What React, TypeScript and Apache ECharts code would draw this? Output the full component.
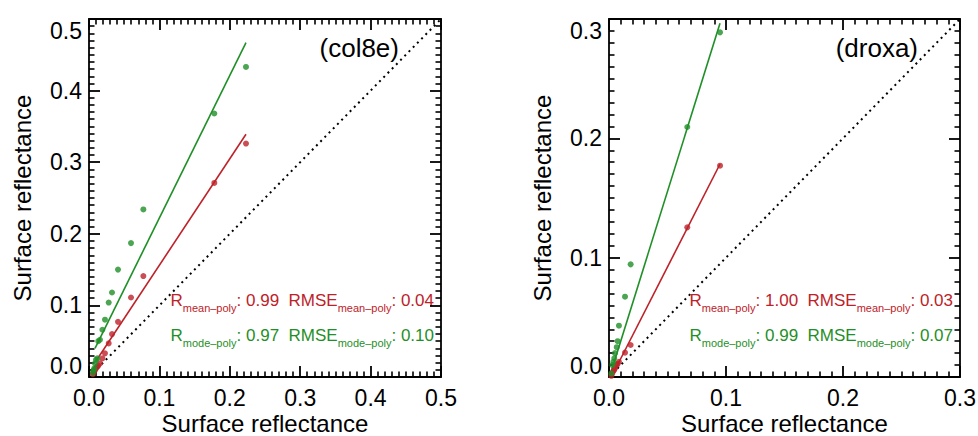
import React, { useEffect, useRef } from "react";
import * as echarts from "echarts";

// ---- Data ----
// Left panel (col8e)
const LEFT_X = [0.0055, 0.0065, 0.0075, 0.0085, 0.0099, 0.0118, 0.0132, 0.0156, 0.019, 0.0227, 0.028, 0.0327, 0.0412, 0.0597, 0.0772, 0.178, 0.223];
const LEFT_MODE = [0.006, 0.0098, 0.012, 0.019, 0.024, 0.026, 0.050, 0.052, 0.066, 0.080, 0.104, 0.118, 0.150, 0.187, 0.234, 0.368, 0.433];
const LEFT_MEAN = [0.004, 0.006, 0.008, 0.0098, 0.012, 0.0144, 0.016, 0.019, 0.026, 0.033, 0.047, 0.060, 0.077, 0.111, 0.141, 0.271, 0.326];
const LEFT_MODE_FIT = [[0.0085, 0.040], [0.223, 0.467]];
const LEFT_MEAN_FIT = [[0.0109, 0.0237], [0.223, 0.339]];

// Right panel (droxa)
const RIGHT_X = [0.002, 0.0028, 0.0037, 0.0045, 0.0051, 0.0066, 0.0074, 0.0085, 0.0137, 0.0185, 0.0669, 0.0949];
const RIGHT_MODE = [0.003, 0.010, 0.0128, 0.0157, 0.020, 0.025, 0.030, 0.043, 0.0673, 0.0944, 0.2095, 0.2888];
const RIGHT_MEAN = [0.001, 0.003, 0.005, 0.006, 0.0073, 0.010, 0.011, 0.0128, 0.0204, 0.0268, 0.1254, 0.1771];
const RIGHT_MODE_FIT = [[0.0014, 0.003], [0.0949, 0.2964]];
const RIGHT_MEAN_FIT = [[0.0043, 0.0044], [0.0949, 0.1785]];

const PANEL_MAX = [0.5, 0.3];
const MAJOR_STEP = 0.1;
const MINOR_PER_MAJOR = 10;
const PANEL_NAMES = ["(col8e)", "(droxa)"];
const STAT_MEAN = [["0.99", "0.04"], ["1.00", "0.03"]];
const STAT_MODE = [["0.97", "0.10"], ["0.99", "0.07"]];
const AXIS_TITLE = "Surface reflectance";

const RED = "#bd2229";
const GREEN = "#1f8f27";
const FONT = "Liberation Sans, Arial, Helvetica, sans-serif";

const GRIDS = [
  { left: 89, top: 19, width: 352, height: 358 },
  { left: 609, top: 19, width: 351, height: 358 },
];

function pairs(xs: number[], ys: number[]) {
  return xs.map((x, i) => [x, ys[i]]);
}

export default function App() {
  const ref = useRef<HTMLDivElement>(null);

  useEffect(() => {
    if (!ref.current) return;
    const chart = echarts.init(ref.current, null, { renderer: "svg" });

    const xAxes: any[] = [];
    const yAxes: any[] = [];
    const series: any[] = [];
    const graphics: any[] = [];

    const axisBase = (gi: number, max: number) => ({
      type: "value",
      gridIndex: gi,
      min: 0,
      max,
      interval: MAJOR_STEP,
      splitLine: { show: false },
      axisLine: { show: true, onZero: false, lineStyle: { color: "#000", width: 1.8 } },
      axisTick: { show: true, inside: true, length: 11, lineStyle: { color: "#000", width: 1.8 } },
      minorTick: { show: true, splitNumber: MINOR_PER_MAJOR, length: 5.5, lineStyle: { color: "#000", width: 1.6 } },
    });

    const labelStyle = {
      color: "#000",
      fontSize: 23,
      fontFamily: FONT,
      formatter: (v: number) => v.toFixed(1),
    };

    const nameStyle = { color: "#000", fontSize: 24, fontFamily: FONT };

    [0, 1].forEach((gi) => {
      const max = PANEL_MAX[gi];
      xAxes.push({
        ...axisBase(gi, max),
        position: "bottom",
        axisLabel: { ...labelStyle, margin: 9 },
        name: AXIS_TITLE,
        nameLocation: "middle",
        nameGap: 34,
        nameMoveOverlap: false,
        nameTextStyle: nameStyle,
      });
      xAxes.push({
        ...axisBase(gi, max),
        position: "top",
        axisLabel: { show: false },
      });
      yAxes.push({
        ...axisBase(gi, max),
        position: "left",
        axisLabel: {
          ...labelStyle,
          margin: 7,
          verticalAlignMinLabel: "bottom",
          verticalAlignMaxLabel: "top",
        },
        name: AXIS_TITLE,
        nameLocation: "middle",
        nameGap: 55,
        nameMoveOverlap: false,
        nameTextStyle: nameStyle,
      });
      yAxes.push({
        ...axisBase(gi, max),
        position: "right",
        axisLabel: { show: false },
      });
    });

    const panels = [
      { x: LEFT_X, mode: LEFT_MODE, mean: LEFT_MEAN, modeFit: LEFT_MODE_FIT, meanFit: LEFT_MEAN_FIT },
      { x: RIGHT_X, mode: RIGHT_MODE, mean: RIGHT_MEAN, modeFit: RIGHT_MODE_FIT, meanFit: RIGHT_MEAN_FIT },
    ];

    panels.forEach((p, gi) => {
      const xi = gi * 2;
      const yi = gi * 2;
      const max = PANEL_MAX[gi];

      series.push({
        type: "line",
        xAxisIndex: xi,
        yAxisIndex: yi,
        data: [[0, 0], [max, max]],
        showSymbol: false,
        symbol: "none",
        lineStyle: { color: "#000", width: 2, type: [2, 4] },
        silent: true,
        z: 1,
      });
      series.push({
        type: "line",
        xAxisIndex: xi,
        yAxisIndex: yi,
        data: p.meanFit,
        symbol: "none",
        lineStyle: { color: RED, width: 1.6 },
        z: 2,
      });
      series.push({
        type: "line",
        xAxisIndex: xi,
        yAxisIndex: yi,
        data: p.modeFit,
        symbol: "none",
        lineStyle: { color: GREEN, width: 1.6 },
        z: 2,
      });
      series.push({
        type: "scatter",
        xAxisIndex: xi,
        yAxisIndex: yi,
        data: pairs(p.x, p.mean),
        symbolSize: 6,
        itemStyle: { color: RED },
        z: 3,
      });
      series.push({
        type: "scatter",
        xAxisIndex: xi,
        yAxisIndex: yi,
        data: pairs(p.x, p.mode),
        symbolSize: 6,
        itemStyle: { color: GREEN },
        z: 3,
      });

      const g = GRIDS[gi];
      const right = g.left + g.width;
      graphics.push({
        type: "text",
        x: right - 42,
        y: 48,
        style: {
          text: PANEL_NAMES[gi],
          align: "right",
          verticalAlign: "middle",
          fontSize: 26,
          fontFamily: FONT,
          fill: "#000",
        },
      });

      const richFor = (color: string) => ({
        n: { fontSize: 17, fontFamily: FONT, color, lineHeight: 26, verticalAlign: "middle" },
        s: { fontSize: 11, fontFamily: FONT, color, lineHeight: 12, verticalAlign: "bottom" },
      });
      const line = (sub: string, r: string, rmse: string) =>
        `{n|R}{s|${sub}}{n|: ${r}  RMSE}{s|${sub}}{n|: ${rmse}}`;

      graphics.push({
        type: "text",
        x: right - 7,
        y: 300,
        style: {
          text: line("mean–poly", STAT_MEAN[gi][0], STAT_MEAN[gi][1]),
          align: "right",
          verticalAlign: "middle",
          rich: richFor(RED),
          fill: RED,
        },
      });
      graphics.push({
        type: "text",
        x: right - 7,
        y: 335,
        style: {
          text: line("mode–poly", STAT_MODE[gi][0], STAT_MODE[gi][1]),
          align: "right",
          verticalAlign: "middle",
          rich: richFor(GREEN),
          fill: GREEN,
        },
      });
    });

    chart.setOption({
      animation: false,
      backgroundColor: "#fff",
      grid: GRIDS.map((g) => ({ ...g, containLabel: false, outerBoundsMode: "none" })),
      xAxis: xAxes,
      yAxis: yAxes,
      series,
      graphic: graphics,
    });

    return () => chart.dispose();
  }, []);

  return (
    <div
      ref={ref}
      style={{ position: "fixed", left: 0, top: 0, width: 978, height: 436, background: "#fff" }}
    />
  );
}
